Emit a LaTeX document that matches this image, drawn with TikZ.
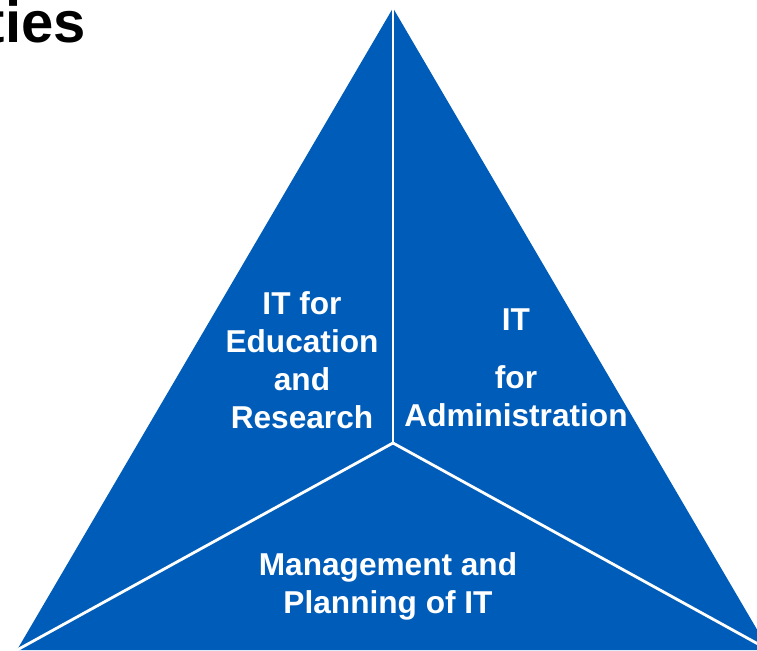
\documentclass[tikz,border=0pt]{standalone}
\usepackage{fontspec}
\setmainfont{Liberation Sans}
\usetikzlibrary{positioning}
\definecolor{segblue}{RGB}{0,92,185}
\tikzset{segment/.style={ % The three blue parts of the triangle
fill=segblue,
draw=none},
divider/.style={ % White lines between the parts
draw=white,
line width=1.6pt},
segtext/.style={ % Labels inside the parts
text=white,
align=center,
font=\bfseries\fontsize{18}{21.6}\selectfont},
headtext/.style={ % Title at top left
text=black,
inner sep=0pt,
font=\bfseries\fontsize{33}{38}\selectfont}}

\begin{document}
\begin{tikzpicture}[x=0.02cm, y=-0.02cm]
	\useasboundingbox (0,0) rectangle (757,650);
	\coordinate (top) at (393,8);
	\coordinate (left) at (17,650);
	\coordinate (right) at (769,650);
	\coordinate (mid) at (393,443);

	\fill[segment] (top) -- (left) -- (right) -- cycle;
	\draw[divider] (mid) -- (top);
	\draw[divider] (mid) -- (left);
	\draw[divider] (mid) -- (right);

	\node[headtext, anchor=east] (title) at (86,22) {ties};
	\node[segtext] (edu) at (302,360) {IT for\\Education\\and\\Research};
	\node[segtext] (admin) at (516,368) {IT\\[0.4cm]for\\Administration};
	\node[segtext] (plan) at (388,586) {Management and\\Planning of IT};
\end{tikzpicture}
\end{document}
